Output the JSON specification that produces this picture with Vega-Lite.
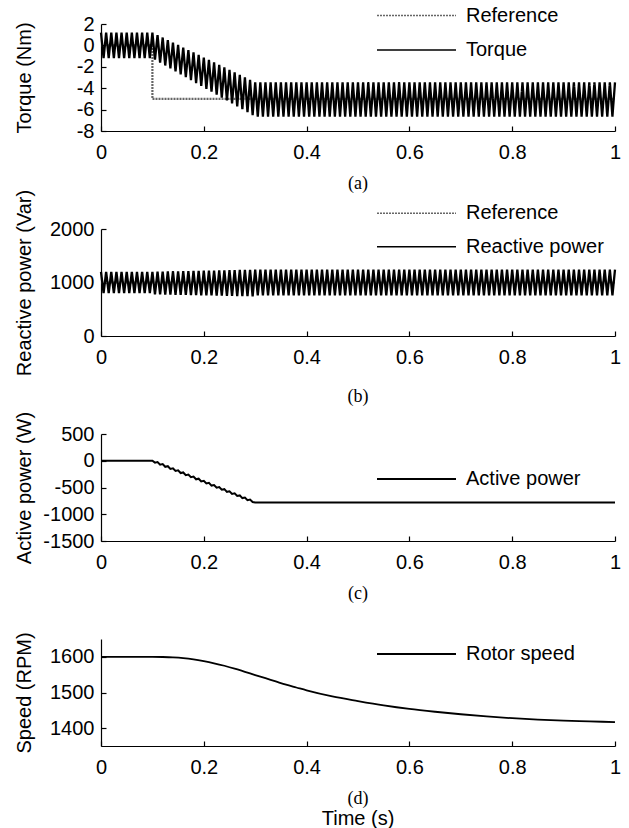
{
"$schema": "https://vega.github.io/schema/vega-lite/v6.json",
"background": "white",
"padding": {"left": 14, "top": 5, "right": 4, "bottom": 0},
"bounds": "flush",
"spacing": 98,
"datasets": {
"torqueRef": [{"i":0,"t":0,"v":0},{"i":1,"t":0.1,"v":0},{"i":2,"t":0.1,"v":-5},{"i":3,"t":1,"v":-5}],
"reactiveRef": [{"i":0,"t":0,"v":1000},{"i":1,"t":1,"v":1000}],
"torque": [
{"t":0,"v":1.2},{"t":0.005,"v":-1.2},{"t":0.01,"v":1.2},{"t":0.015,"v":-1.2},{"t":0.02,"v":1.2},{"t":0.025,"v":-1.2},{"t":0.03,"v":1.2},{"t":0.035,"v":-1.2},{"t":0.04,"v":1.2},{"t":0.045,"v":-1.2},
{"t":0.05,"v":1.2},{"t":0.055,"v":-1.2},{"t":0.06,"v":1.2},{"t":0.065,"v":-1.2},{"t":0.07,"v":1.2},{"t":0.075,"v":-1.2},{"t":0.08,"v":1.2},{"t":0.085,"v":-1.2},{"t":0.09,"v":1.2},{"t":0.095,"v":-1.2},
{"t":0.1,"v":1.2},{"t":0.105,"v":-1.34},{"t":0.11,"v":0.97},{"t":0.115,"v":-1.61},{"t":0.12,"v":0.74},{"t":0.125,"v":-1.88},{"t":0.13,"v":0.5},{"t":0.135,"v":-2.15},{"t":0.14,"v":0.27},{"t":0.145,"v":-2.43},
{"t":0.15,"v":0.04},{"t":0.155,"v":-2.7},{"t":0.16,"v":-0.2},{"t":0.165,"v":-2.97},{"t":0.17,"v":-0.43},{"t":0.175,"v":-3.24},{"t":0.18,"v":-0.66},{"t":0.185,"v":-3.52},{"t":0.19,"v":-0.89},{"t":0.195,"v":-3.79},
{"t":0.2,"v":-1.13},{"t":0.205,"v":-4.06},{"t":0.21,"v":-1.36},{"t":0.215,"v":-4.33},{"t":0.22,"v":-1.59},{"t":0.225,"v":-4.61},{"t":0.23,"v":-1.82},{"t":0.235,"v":-4.88},{"t":0.24,"v":-2.06},{"t":0.245,"v":-5.15},
{"t":0.25,"v":-2.29},{"t":0.255,"v":-5.42},{"t":0.26,"v":-2.52},{"t":0.265,"v":-5.7},{"t":0.27,"v":-2.75},{"t":0.275,"v":-5.97},{"t":0.28,"v":-2.99},{"t":0.285,"v":-6.24},{"t":0.29,"v":-3.22},{"t":0.295,"v":-6.51},
{"t":0.3,"v":-3.45},{"t":0.305,"v":-6.65},{"t":0.31,"v":-3.45},{"t":0.315,"v":-6.65},{"t":0.32,"v":-3.45},{"t":0.325,"v":-6.65},{"t":0.33,"v":-3.45},{"t":0.335,"v":-6.65},{"t":0.34,"v":-3.45},{"t":0.345,"v":-6.65},
{"t":0.35,"v":-3.45},{"t":0.355,"v":-6.65},{"t":0.36,"v":-3.45},{"t":0.365,"v":-6.65},{"t":0.37,"v":-3.45},{"t":0.375,"v":-6.65},{"t":0.38,"v":-3.45},{"t":0.385,"v":-6.65},{"t":0.39,"v":-3.45},{"t":0.395,"v":-6.65},
{"t":0.4,"v":-3.45},{"t":0.405,"v":-6.65},{"t":0.41,"v":-3.45},{"t":0.415,"v":-6.65},{"t":0.42,"v":-3.45},{"t":0.425,"v":-6.65},{"t":0.43,"v":-3.45},{"t":0.435,"v":-6.65},{"t":0.44,"v":-3.45},{"t":0.445,"v":-6.65},
{"t":0.45,"v":-3.45},{"t":0.455,"v":-6.65},{"t":0.46,"v":-3.45},{"t":0.465,"v":-6.65},{"t":0.47,"v":-3.45},{"t":0.475,"v":-6.65},{"t":0.48,"v":-3.45},{"t":0.485,"v":-6.65},{"t":0.49,"v":-3.45},{"t":0.495,"v":-6.65},
{"t":0.5,"v":-3.45},{"t":0.505,"v":-6.65},{"t":0.51,"v":-3.45},{"t":0.515,"v":-6.65},{"t":0.52,"v":-3.45},{"t":0.525,"v":-6.65},{"t":0.53,"v":-3.45},{"t":0.535,"v":-6.65},{"t":0.54,"v":-3.45},{"t":0.545,"v":-6.65},
{"t":0.55,"v":-3.45},{"t":0.555,"v":-6.65},{"t":0.56,"v":-3.45},{"t":0.565,"v":-6.65},{"t":0.57,"v":-3.45},{"t":0.575,"v":-6.65},{"t":0.58,"v":-3.45},{"t":0.585,"v":-6.65},{"t":0.59,"v":-3.45},{"t":0.595,"v":-6.65},
{"t":0.6,"v":-3.45},{"t":0.605,"v":-6.65},{"t":0.61,"v":-3.45},{"t":0.615,"v":-6.65},{"t":0.62,"v":-3.45},{"t":0.625,"v":-6.65},{"t":0.63,"v":-3.45},{"t":0.635,"v":-6.65},{"t":0.64,"v":-3.45},{"t":0.645,"v":-6.65},
{"t":0.65,"v":-3.45},{"t":0.655,"v":-6.65},{"t":0.66,"v":-3.45},{"t":0.665,"v":-6.65},{"t":0.67,"v":-3.45},{"t":0.675,"v":-6.65},{"t":0.68,"v":-3.45},{"t":0.685,"v":-6.65},{"t":0.69,"v":-3.45},{"t":0.695,"v":-6.65},
{"t":0.7,"v":-3.45},{"t":0.705,"v":-6.65},{"t":0.71,"v":-3.45},{"t":0.715,"v":-6.65},{"t":0.72,"v":-3.45},{"t":0.725,"v":-6.65},{"t":0.73,"v":-3.45},{"t":0.735,"v":-6.65},{"t":0.74,"v":-3.45},{"t":0.745,"v":-6.65},
{"t":0.75,"v":-3.45},{"t":0.755,"v":-6.65},{"t":0.76,"v":-3.45},{"t":0.765,"v":-6.65},{"t":0.77,"v":-3.45},{"t":0.775,"v":-6.65},{"t":0.78,"v":-3.45},{"t":0.785,"v":-6.65},{"t":0.79,"v":-3.45},{"t":0.795,"v":-6.65},
{"t":0.8,"v":-3.45},{"t":0.805,"v":-6.65},{"t":0.81,"v":-3.45},{"t":0.815,"v":-6.65},{"t":0.82,"v":-3.45},{"t":0.825,"v":-6.65},{"t":0.83,"v":-3.45},{"t":0.835,"v":-6.65},{"t":0.84,"v":-3.45},{"t":0.845,"v":-6.65},
{"t":0.85,"v":-3.45},{"t":0.855,"v":-6.65},{"t":0.86,"v":-3.45},{"t":0.865,"v":-6.65},{"t":0.87,"v":-3.45},{"t":0.875,"v":-6.65},{"t":0.88,"v":-3.45},{"t":0.885,"v":-6.65},{"t":0.89,"v":-3.45},{"t":0.895,"v":-6.65},
{"t":0.9,"v":-3.45},{"t":0.905,"v":-6.65},{"t":0.91,"v":-3.45},{"t":0.915,"v":-6.65},{"t":0.92,"v":-3.45},{"t":0.925,"v":-6.65},{"t":0.93,"v":-3.45},{"t":0.935,"v":-6.65},{"t":0.94,"v":-3.45},{"t":0.945,"v":-6.65},
{"t":0.95,"v":-3.45},{"t":0.955,"v":-6.65},{"t":0.96,"v":-3.45},{"t":0.965,"v":-6.65},{"t":0.97,"v":-3.45},{"t":0.975,"v":-6.65},{"t":0.98,"v":-3.45},{"t":0.985,"v":-6.65},{"t":0.99,"v":-3.45},{"t":0.995,"v":-6.65},
{"t":1,"v":-3.45}
],
"reactive": [
{"t":0,"v":1200},{"t":0.005,"v":800},{"t":0.01,"v":1200},{"t":0.015,"v":800},{"t":0.02,"v":1200},{"t":0.025,"v":800},{"t":0.03,"v":1200},{"t":0.035,"v":800},{"t":0.04,"v":1200},{"t":0.045,"v":800},
{"t":0.05,"v":1200},{"t":0.055,"v":800},{"t":0.06,"v":1200},{"t":0.065,"v":800},{"t":0.07,"v":1200},{"t":0.075,"v":800},{"t":0.08,"v":1200},{"t":0.085,"v":800},{"t":0.09,"v":1200},{"t":0.095,"v":800},
{"t":0.1,"v":1200},{"t":0.105,"v":779},{"t":0.11,"v":1202},{"t":0.115,"v":777},{"t":0.12,"v":1204},{"t":0.125,"v":775},{"t":0.13,"v":1206},{"t":0.135,"v":773},{"t":0.14,"v":1208},{"t":0.145,"v":771},
{"t":0.15,"v":1210},{"t":0.155,"v":769},{"t":0.16,"v":1212},{"t":0.165,"v":767},{"t":0.17,"v":1214},{"t":0.175,"v":765},{"t":0.18,"v":1216},{"t":0.185,"v":763},{"t":0.19,"v":1218},{"t":0.195,"v":761},
{"t":0.2,"v":1220},{"t":0.205,"v":759},{"t":0.21,"v":1222},{"t":0.215,"v":757},{"t":0.22,"v":1224},{"t":0.225,"v":755},{"t":0.23,"v":1226},{"t":0.235,"v":753},{"t":0.24,"v":1228},{"t":0.245,"v":751},
{"t":0.25,"v":1230},{"t":0.255,"v":749},{"t":0.26,"v":1232},{"t":0.265,"v":747},{"t":0.27,"v":1234},{"t":0.275,"v":745},{"t":0.28,"v":1236},{"t":0.285,"v":743},{"t":0.29,"v":1238},{"t":0.295,"v":741},
{"t":0.3,"v":1240},{"t":0.305,"v":760},{"t":0.31,"v":1240},{"t":0.315,"v":760},{"t":0.32,"v":1240},{"t":0.325,"v":760},{"t":0.33,"v":1240},{"t":0.335,"v":760},{"t":0.34,"v":1240},{"t":0.345,"v":760},
{"t":0.35,"v":1240},{"t":0.355,"v":760},{"t":0.36,"v":1240},{"t":0.365,"v":760},{"t":0.37,"v":1240},{"t":0.375,"v":760},{"t":0.38,"v":1240},{"t":0.385,"v":760},{"t":0.39,"v":1240},{"t":0.395,"v":760},
{"t":0.4,"v":1240},{"t":0.405,"v":760},{"t":0.41,"v":1240},{"t":0.415,"v":760},{"t":0.42,"v":1240},{"t":0.425,"v":760},{"t":0.43,"v":1240},{"t":0.435,"v":760},{"t":0.44,"v":1240},{"t":0.445,"v":760},
{"t":0.45,"v":1240},{"t":0.455,"v":760},{"t":0.46,"v":1240},{"t":0.465,"v":760},{"t":0.47,"v":1240},{"t":0.475,"v":760},{"t":0.48,"v":1240},{"t":0.485,"v":760},{"t":0.49,"v":1240},{"t":0.495,"v":760},
{"t":0.5,"v":1240},{"t":0.505,"v":760},{"t":0.51,"v":1240},{"t":0.515,"v":760},{"t":0.52,"v":1240},{"t":0.525,"v":760},{"t":0.53,"v":1240},{"t":0.535,"v":760},{"t":0.54,"v":1240},{"t":0.545,"v":760},
{"t":0.55,"v":1240},{"t":0.555,"v":760},{"t":0.56,"v":1240},{"t":0.565,"v":760},{"t":0.57,"v":1240},{"t":0.575,"v":760},{"t":0.58,"v":1240},{"t":0.585,"v":760},{"t":0.59,"v":1240},{"t":0.595,"v":760},
{"t":0.6,"v":1240},{"t":0.605,"v":760},{"t":0.61,"v":1240},{"t":0.615,"v":760},{"t":0.62,"v":1240},{"t":0.625,"v":760},{"t":0.63,"v":1240},{"t":0.635,"v":760},{"t":0.64,"v":1240},{"t":0.645,"v":760},
{"t":0.65,"v":1240},{"t":0.655,"v":760},{"t":0.66,"v":1240},{"t":0.665,"v":760},{"t":0.67,"v":1240},{"t":0.675,"v":760},{"t":0.68,"v":1240},{"t":0.685,"v":760},{"t":0.69,"v":1240},{"t":0.695,"v":760},
{"t":0.7,"v":1240},{"t":0.705,"v":760},{"t":0.71,"v":1240},{"t":0.715,"v":760},{"t":0.72,"v":1240},{"t":0.725,"v":760},{"t":0.73,"v":1240},{"t":0.735,"v":760},{"t":0.74,"v":1240},{"t":0.745,"v":760},
{"t":0.75,"v":1240},{"t":0.755,"v":760},{"t":0.76,"v":1240},{"t":0.765,"v":760},{"t":0.77,"v":1240},{"t":0.775,"v":760},{"t":0.78,"v":1240},{"t":0.785,"v":760},{"t":0.79,"v":1240},{"t":0.795,"v":760},
{"t":0.8,"v":1240},{"t":0.805,"v":760},{"t":0.81,"v":1240},{"t":0.815,"v":760},{"t":0.82,"v":1240},{"t":0.825,"v":760},{"t":0.83,"v":1240},{"t":0.835,"v":760},{"t":0.84,"v":1240},{"t":0.845,"v":760},
{"t":0.85,"v":1240},{"t":0.855,"v":760},{"t":0.86,"v":1240},{"t":0.865,"v":760},{"t":0.87,"v":1240},{"t":0.875,"v":760},{"t":0.88,"v":1240},{"t":0.885,"v":760},{"t":0.89,"v":1240},{"t":0.895,"v":760},
{"t":0.9,"v":1240},{"t":0.905,"v":760},{"t":0.91,"v":1240},{"t":0.915,"v":760},{"t":0.92,"v":1240},{"t":0.925,"v":760},{"t":0.93,"v":1240},{"t":0.935,"v":760},{"t":0.94,"v":1240},{"t":0.945,"v":760},
{"t":0.95,"v":1240},{"t":0.955,"v":760},{"t":0.96,"v":1240},{"t":0.965,"v":760},{"t":0.97,"v":1240},{"t":0.975,"v":760},{"t":0.98,"v":1240},{"t":0.985,"v":760},{"t":0.99,"v":1240},{"t":0.995,"v":760},
{"t":1,"v":1240}
],
"active": [
{"t":0,"v":0},{"t":0.1,"v":0},{"t":0.105,"v":-35},{"t":0.11,"v":-24},{"t":0.115,"v":-74},{"t":0.12,"v":-63},{"t":0.125,"v":-113},{"t":0.13,"v":-102},{"t":0.135,"v":-152},{"t":0.14,"v":-141},{"t":0.145,"v":-191},
{"t":0.15,"v":-180},{"t":0.155,"v":-230},{"t":0.16,"v":-219},{"t":0.165,"v":-269},{"t":0.17,"v":-258},{"t":0.175,"v":-308},{"t":0.18,"v":-297},{"t":0.185,"v":-347},{"t":0.19,"v":-336},{"t":0.195,"v":-386},
{"t":0.2,"v":-375},{"t":0.205,"v":-425},{"t":0.21,"v":-414},{"t":0.215,"v":-464},{"t":0.22,"v":-453},{"t":0.225,"v":-503},{"t":0.23,"v":-492},{"t":0.235,"v":-542},{"t":0.24,"v":-531},{"t":0.245,"v":-581},
{"t":0.25,"v":-570},{"t":0.255,"v":-620},{"t":0.26,"v":-609},{"t":0.265,"v":-659},{"t":0.27,"v":-648},{"t":0.275,"v":-698},{"t":0.28,"v":-687},{"t":0.285,"v":-737},{"t":0.29,"v":-726},{"t":0.295,"v":-771},
{"t":0.3,"v":-780},{"t":1,"v":-780}
],
"speed": [
{"t":0,"v":1600},{"t":0.1,"v":1600},{"t":0.12,"v":1599.5},{"t":0.14,"v":1598.5},{"t":0.16,"v":1596.5},{"t":0.18,"v":1593},{"t":0.2,"v":1588},{"t":0.22,"v":1582},{"t":0.24,"v":1575},{"t":0.26,"v":1567},
{"t":0.28,"v":1558},{"t":0.3,"v":1549},{"t":0.32,"v":1540},{"t":0.34,"v":1531},{"t":0.36,"v":1522},{"t":0.38,"v":1514},{"t":0.4,"v":1506},{"t":0.45,"v":1489},{"t":0.5,"v":1476},{"t":0.55,"v":1464},
{"t":0.6,"v":1454},{"t":0.65,"v":1446},{"t":0.7,"v":1439},{"t":0.75,"v":1433},{"t":0.8,"v":1428},{"t":0.85,"v":1424},{"t":0.9,"v":1421},{"t":0.95,"v":1419},{"t":1,"v":1417}
]
},
"resolve": {
"scale": {"y": "independent", "color": "independent", "strokeDash": "independent"},
"legend": {"color": "independent", "strokeDash": "independent"}
},
"config": {
"view": {"stroke": null},
"axis": {
"grid": false, "domainColor": "#000", "tickColor": "#000", "labelColor": "#000", "titleColor": "#000",
"labelFont": "Liberation Sans", "titleFont": "Liberation Sans", "labelFontSize": 20, "titleFontSize": 20,
"titleFontWeight": "normal", "tickSize": -5, "domainWidth": 1.2, "tickWidth": 1.2, "labelFlush": false, "labelOverlap": false
},
"axisX": {"labelPadding": 16.5},
"axisY": {"labelPadding": 12, "titleX": -77, "titleY": 53.5, "titleBaseline": "middle", "titleAngle": -90},
"legend": {
"symbolType": "stroke", "symbolSize": 6241, "symbolStrokeWidth": 1.5, "labelOffset": 9, "clipHeight": 20,
"labelFont": "Liberation Sans", "labelFontSize": 20, "labelColor": "#000", "padding": 0, "labelLimit": 300
},
"title": {
"orient": "bottom", "frame": "group", "offset": 12, "anchor": "middle", "font": "Liberation Serif", "fontSize": 18,
"fontWeight": "normal", "color": "#000", "subtitleFont": "Liberation Sans", "subtitleFontSize": 20, "subtitleColor": "#000", "subtitlePadding": 1
}
},
"vconcat": [
{
"width": 514, "height": 107,
"title": {"text": "(a)"},
"encoding": {
"x": {"field": "t", "type": "quantitative", "scale": {"domain": [0, 1]}, "axis": {"title": null, "values": [0, 0.2, 0.4, 0.6, 0.8, 1], "labelExpr": "'' + datum.value"}},
"y": {"field": "v", "type": "quantitative", "scale": {"domain": [-8, 2]}, "axis": {"title": "Torque (Nm)", "values": [-8, -6, -4, -2, 0, 2], "labelExpr": "'' + datum.value"}}
},
"layer": [
{"data": {"name": "torqueRef"}, "mark": {"type": "line", "strokeWidth": 2.2},
"encoding": {
"order": {"field": "i", "type": "quantitative"},
"color": {"datum": "Reference", "type": "nominal", "scale": {"domain": ["Reference", "Torque"], "range": ["#666666", "#000000"]}, "legend": {"title": null, "orient": "none", "legendX": 275, "legendY": -18.5, "rowPadding": 14.5}},
"strokeDash": {"datum": "Reference", "type": "nominal", "scale": {"domain": ["Reference", "Torque"], "range": [[2, 1], [1, 0]]}, "legend": {"title": null, "orient": "none", "legendX": 275, "legendY": -18.5, "rowPadding": 14.5}}
}},
{"data": {"name": "torque"}, "mark": {"type": "line", "strokeWidth": 2.3},
"encoding": {
"color": {"datum": "Torque", "type": "nominal"},
"strokeDash": {"datum": "Torque", "type": "nominal"}
}}
]
},
{
"width": 514, "height": 107,
"title": {"text": "(b)"},
"encoding": {
"x": {"field": "t", "type": "quantitative", "scale": {"domain": [0, 1]}, "axis": {"title": null, "values": [0, 0.2, 0.4, 0.6, 0.8, 1], "labelExpr": "'' + datum.value"}},
"y": {"field": "v", "type": "quantitative", "scale": {"domain": [0, 2000]}, "axis": {"title": "Reactive power (Var)", "values": [0, 1000, 2000], "labelExpr": "'' + datum.value"}}
},
"layer": [
{"data": {"name": "reactiveRef"}, "mark": {"type": "line", "strokeWidth": 2.2},
"encoding": {
"order": {"field": "i", "type": "quantitative"},
"color": {"datum": "Reference", "type": "nominal", "scale": {"domain": ["Reference", "Reactive power"], "range": ["#666666", "#000000"]}, "legend": {"title": null, "orient": "none", "legendX": 275, "legendY": -25.7, "rowPadding": 13.5}},
"strokeDash": {"datum": "Reference", "type": "nominal", "scale": {"domain": ["Reference", "Reactive power"], "range": [[2, 1], [1, 0]]}, "legend": {"title": null, "orient": "none", "legendX": 275, "legendY": -25.7, "rowPadding": 13.5}}
}},
{"data": {"name": "reactive"}, "mark": {"type": "line", "strokeWidth": 2.3},
"encoding": {
"color": {"datum": "Reactive power", "type": "nominal"},
"strokeDash": {"datum": "Reactive power", "type": "nominal"}
}}
]
},
{
"width": 514, "height": 107,
"title": {"text": "(c)"},
"data": {"name": "active"},
"mark": {"type": "line", "strokeWidth": 2},
"encoding": {
"x": {"field": "t", "type": "quantitative", "scale": {"domain": [0, 1]}, "axis": {"title": null, "values": [0, 0.2, 0.4, 0.6, 0.8, 1], "labelExpr": "'' + datum.value"}},
"y": {"field": "v", "type": "quantitative", "scale": {"domain": [-1500, 500]}, "axis": {"title": "Active power (W)", "values": [-1500, -1000, -500, 0, 500], "labelExpr": "'' + datum.value"}},
"color": {"datum": "Active power", "type": "nominal", "scale": {"domain": ["Active power"], "range": ["#000000"]}, "legend": {"title": null, "orient": "none", "legendX": 275, "legendY": 35, "symbolStrokeWidth": 2}}
}
},
{
"width": 514, "height": 107,
"title": {"text": "(d)", "subtitle": "Time (s)"},
"data": {"name": "speed"},
"mark": {"type": "line", "strokeWidth": 1.8, "interpolate": "monotone"},
"encoding": {
"x": {"field": "t", "type": "quantitative", "scale": {"domain": [0, 1]}, "axis": {"title": null, "values": [0, 0.2, 0.4, 0.6, 0.8, 1], "labelExpr": "'' + datum.value"}},
"y": {"field": "v", "type": "quantitative", "scale": {"domain": [1350, 1650]}, "axis": {"title": "Speed (RPM)", "values": [1400, 1500, 1600], "labelExpr": "'' + datum.value"}},
"color": {"datum": "Rotor speed", "type": "nominal", "scale": {"domain": ["Rotor speed"], "range": ["#000000"]}, "legend": {"title": null, "orient": "none", "legendX": 275, "legendY": 5, "symbolStrokeWidth": 2}}
}
}
]
}
